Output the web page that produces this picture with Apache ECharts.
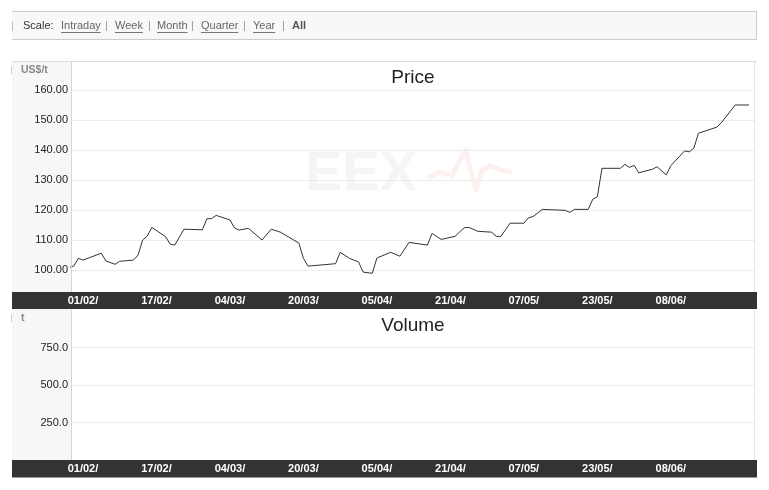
<!DOCTYPE html>
<html><head><meta charset="utf-8">
<script src="https://cdn.jsdelivr.net/npm/echarts@6/dist/echarts.min.js"></script>
<style>html,body{margin:0;padding:0;background:#fff}#c{width:769px;height:490px}</style>
</head><body><div id="c"></div><script>
// ---------- data ----------
const priceDates = ['2008-01-29','2008-01-30','2008-01-31','2008-02-01','2008-02-05','2008-02-06','2008-02-08','2008-02-09','2008-02-12','2008-02-13',
 '2008-02-14','2008-02-15','2008-02-16','2008-02-19','2008-02-20','2008-02-21','2008-02-23','2008-02-27','2008-02-28','2008-02-29',
 '2008-03-01','2008-03-04','2008-03-05','2008-03-06','2008-03-08','2008-03-11','2008-03-13','2008-03-15','2008-03-19','2008-03-20',
 '2008-03-21','2008-03-27','2008-03-28','2008-03-30','2008-04-01','2008-04-02','2008-04-04','2008-04-05','2008-04-08','2008-04-10',
 '2008-04-12','2008-04-16','2008-04-17','2008-04-19','2008-04-22','2008-04-24','2008-04-25','2008-04-27','2008-04-30','2008-05-01',
 '2008-05-02','2008-05-04','2008-05-07','2008-05-08','2008-05-09','2008-05-11','2008-05-16','2008-05-17','2008-05-18','2008-05-21',
 '2008-05-22','2008-05-23','2008-05-24','2008-05-28','2008-05-29','2008-05-30','2008-05-31','2008-06-01','2008-06-04','2008-06-05',
 '2008-06-07','2008-06-08','2008-06-11','2008-06-12','2008-06-13','2008-06-14','2008-06-18','2008-06-19','2008-06-22','2008-06-25'];
const prices = [100.9,101.3,103.9,103.3,105.6,103.0,101.9,102.9,103.3,105.0,
 110.0,111.3,114.2,111.1,108.6,108.3,113.6,113.4,117.1,117.1,
 118.2,116.7,114.0,113.3,113.9,110.0,113.6,112.6,109.0,103.9,
 101.3,102.1,105.9,103.9,102.7,99.3,98.9,104.0,105.9,104.6,
 109.2,108.3,112.2,110.2,111.2,114.1,114.2,112.9,112.6,111.2,
 111.2,115.6,115.6,117.4,117.8,120.2,119.9,119.2,120.2,120.2,
 123.6,124.4,133.9,133.9,135.2,134.2,134.9,132.4,133.6,134.4,
 131.7,134.8,139.7,139.4,140.6,145.6,147.6,149.1,155.0,155.0];
const volumeDates = [];
const volumes = [];
const tickDates = ['2008-02-01','2008-02-17','2008-03-04','2008-03-20','2008-04-05','2008-04-21','2008-05-07','2008-05-23','2008-06-08'];
const priceAxis = {min: 90, max: 170, step: 10};
const volumeAxis = {min: 0, max: 1000, step: 250};
const scaleLinks = ['Intraday','Week','Month','Quarter','Year'];
const scaleCurrent = 'All';
const titles = ['Price', 'Volume'];
const units = ['US$/t', 't'];

// ---------- helpers ----------
const FF = '"Liberation Sans", Arial, sans-serif';
function dayNum(s){ return Date.UTC(+s.slice(0,4), +s.slice(5,7)-1, +s.slice(8,10)) / 864e5; }
function fmtDay(v){ const d = new Date(Math.round(v) * 864e5); const p = n => String(n).padStart(2,'0'); return p(d.getUTCDate()) + '/' + p(d.getUTCMonth()+1) + '/'; }
const tickVals = tickDates.map(dayNum);
const xMin = tickVals[0] - 2.6, xMax = tickVals[0] + 146.1;
const ctx = document.createElement('canvas').getContext('2d');
ctx.font = '11px ' + FF;

const gridL = 71, gridW = 683;
function xAxisFor(gi, margin){
  return {
    type: 'value', gridIndex: gi, min: xMin, max: xMax, z: 10,
    axisLine: {show: false}, axisTick: {show: false}, splitLine: {show: false},
    axisLabel: {customValues: tickVals, formatter: fmtDay, color: '#ffffff', fontWeight: 'bold',
      fontSize: 11, fontFamily: FF, margin: margin, verticalAlign: 'middle'}
  };
}
function yAxisFor(gi, ax, digits){
  return {
    type: 'value', gridIndex: gi, min: ax.min, max: ax.max, interval: ax.step,
    axisLine: {show: false}, axisTick: {show: false},
    axisLabel: {formatter: v => (v === ax.min || v === ax.max) ? '' : v.toFixed(digits),
      color: '#222', fontSize: 11, fontFamily: FF, margin: 3},
    splitLine: {show: true, showMinLine: false, showMaxLine: false, lineStyle: {color: '#ececec', width: 1}}
  };
}

// ---------- decorations ----------
const g = [];
// top scale bar
g.push({type:'rect', z:-10, shape:{x:12, y:11, width:745, height:29}, style:{fill:'#f8f8f8'}});
g.push({type:'polyline', z:-9, shape:{points:[[12,11.5],[756.5,11.5],[756.5,39.5],[12,39.5]]}, style:{stroke:'#cccccc', lineWidth:1, fill:null}});
g.push({type:'line', z:-9, shape:{x1:12.5,y1:22,x2:12.5,y2:31}, style:{stroke:'#bbbbbb', lineWidth:1}});
g.push({type:'text', z:1, style:{text:'Scale:', x:23, y:26, font:'11px '+FF, fill:'#333', verticalAlign:'middle', textVerticalAlign:'middle'}});
const linkX = [61,115,157,201,253], sepX = [105,148,191,243,282];
scaleLinks.forEach((t,i)=>{
  const w = ctx.measureText(t).width;
  g.push({type:'text', z:1, style:{text:t, x:linkX[i], y:26, font:'11px '+FF, fill:'#666', verticalAlign:'middle', textVerticalAlign:'middle'}});
  g.push({type:'line', z:1, shape:{x1:linkX[i], y1:32.5, x2:linkX[i]+w, y2:32.5}, style:{stroke:'#777', lineWidth:1}});
  g.push({type:'text', z:1, style:{text:'|', x:sepX[i], y:26, font:'11px '+FF, fill:'#999', verticalAlign:'middle', textVerticalAlign:'middle'}});
});
g.push({type:'text', z:1, style:{text:scaleCurrent, x:292, y:26, font:'bold 11px '+FF, fill:'#555', verticalAlign:'middle', textVerticalAlign:'middle'}});

// left gray panels
g.push({type:'rect', z:-10, shape:{x:12, y:62, width:59, height:230}, style:{fill:'#f7f7f7'}});
g.push({type:'rect', z:-10, shape:{x:12, y:309, width:59, height:151}, style:{fill:'#f7f7f7'}});
// watermark
g.push({type:'text', z:-8, style:{text:'EEX', x:305, y:175, font:'bold 56px '+FF, fill:'#f5f5f5', verticalAlign:'middle', textVerticalAlign:'middle'}});
g.push({type:'polyline', z:-8, shape:{points:[[428,178],[440,172],[452,176],[460,160],[466,150],[470,168],[476,190],[482,170],[490,166],[500,170],[512,172]]}, style:{stroke:'#fdf1ef', lineWidth:5, fill:null, lineJoin:'round'}});
// borders
g.push({type:'line', z:6, shape:{x1:12, y1:61.5, x2:757, y2:61.5}, style:{stroke:'#dddddd', lineWidth:1}});
[[62,292],[309,460]].forEach(([a,b])=>{
  g.push({type:'line', z:6, shape:{x1:71.5, y1:a, x2:71.5, y2:b}, style:{stroke:'#d6d6d6', lineWidth:1}});
  g.push({type:'line', z:6, shape:{x1:754.5, y1:a, x2:754.5, y2:b}, style:{stroke:'#e6e6e6', lineWidth:1}});
});
// dark date bands
g.push({type:'rect', z:5, shape:{x:12, y:292, width:745, height:17}, style:{fill:'#333333'}});
g.push({type:'rect', z:5, shape:{x:12, y:460, width:745, height:17.5}, style:{fill:'#333333'}});
// unit labels
[[units[0],70],[units[1],318]].forEach(([t,y])=>{
  g.push({type:'line', z:6, shape:{x1:11.5, y1:y-4, x2:11.5, y2:y+4}, style:{stroke:'#cccccc', lineWidth:1}});
  g.push({type:'text', z:6, style:{text:t, x:21, y:y, font:'bold 10.5px '+FF, fill:'#888', verticalAlign:'middle', textVerticalAlign:'middle'}});
});
// titles
[[titles[0],78],[titles[1],325.5]].forEach(([t,y])=>{
  g.push({type:'text', z:6, style:{text:t, x:413, y:y, font:'19px '+FF, fill:'#222', align:'center', textAlign:'center', verticalAlign:'middle', textVerticalAlign:'middle'}});
});

const option = {
  animation: false,
  backgroundColor: '#ffffff',
  grid: [
    {left: gridL, width: gridW, top: 60, height: 240},
    {left: gridL, width: gridW, top: 310, height: 150}
  ],
  xAxis: [xAxisFor(0, 1), xAxisFor(1, 9)],
  yAxis: [yAxisFor(0, priceAxis, 2), yAxisFor(1, volumeAxis, 1)],
  series: [
    {type:'line', name:'Price', xAxisIndex:0, yAxisIndex:0, showSymbol:false, clip:true,
     lineStyle:{color:'#333', width:1}, itemStyle:{color:'#333'},
     data: priceDates.map((d,i)=>[dayNum(d), prices[i]])},
    {type:'bar', name:'Volume', xAxisIndex:1, yAxisIndex:1, itemStyle:{color:'#555'},
     data: volumeDates.map((d,i)=>[dayNum(d), volumes[i]])}
  ],
  graphic: {elements: g}
};
const chart = echarts.init(document.getElementById('c'), null, {renderer:'canvas'});
chart.setOption(option);
</script></body></html>
